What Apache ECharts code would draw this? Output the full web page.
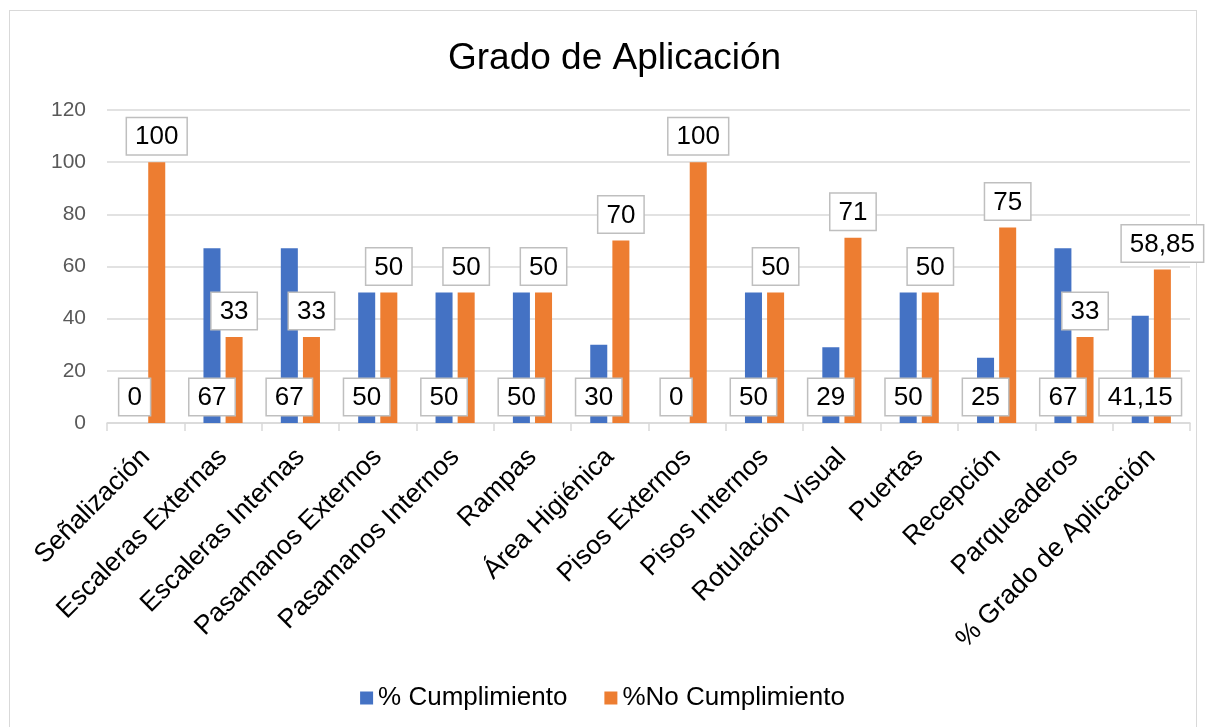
<!DOCTYPE html>
<html>
<head>
<meta charset="utf-8">
<script src="https://cdn.jsdelivr.net/npm/echarts@6/dist/echarts.min.js"></script>
<style>
  html, body { margin: 0; padding: 0; background: #fff; }
  #frame { position: absolute; left: 9px; top: 10px; width: 1188px; height: 730px; border: 1px solid #d9d9d9; box-sizing: border-box; }
  #grafico { position: absolute; left: 0; top: 0; width: 1205px; height: 727px; }
</style>
</head>
<body>
<div id="frame"></div>
<div id="grafico"></div>
<script>
// Categorías y valores (en %)
const categorias = ['Señalización', 'Escaleras Externas', 'Escaleras Internas', 'Pasamanos Externos',
  'Pasamanos Internos', 'Rampas', 'Área Higiénica', 'Pisos Externos', 'Pisos Internos',
  'Rotulación Visual', 'Puertas', 'Recepción', 'Parqueaderos', '% Grado de Aplicación'];
const cumplimiento = [0, 67, 67, 50, 50, 50, 30, 0, 50, 29, 50, 25, 67, 41.15];
const noCumplimiento = [100, 33, 33, 50, 50, 50, 70, 100, 50, 71, 50, 75, 33, 58.85];
const ejeY = [0, 20, 40, 60, 80, 100, 120];

const fuente = 'Liberation Sans, Arial, sans-serif';

// Etiqueta tipo "llamada" de Excel
const etiqueta = function(pos, dist) {
    return {
        show: true,
        position: pos,
        distance: dist,
        fontFamily: fuente,
        fontSize: 26,
        color: '#000',
        backgroundColor: '#fff',
        borderColor: '#bfbfbf',
        borderWidth: 1.5,
        padding: [6, 8, 4, 8],
        formatter: p => String(p.value).replace('.', ',')
    };
};

const chart = echarts.init(document.getElementById('grafico'), null, { renderer: 'canvas' });

// Las etiquetas van en un eje gemelo oculto para quedar encima de todas las barras
const option = {
    animation: false,
    textStyle: { fontFamily: fuente },
    title: {
        text: 'Grado de Aplicación',
        left: 443,
        top: 35,
        textStyle: { fontFamily: fuente, fontSize: 37, fontWeight: 'normal', color: '#000' }
    },
    legend: {
        bottom: 11,
        left: 'center',
        icon: 'rect',
        itemWidth: 13,
        itemHeight: 13,
        itemGap: 37,
        textStyle: { fontFamily: fuente, fontSize: 26, color: '#000' },
        data: ['% Cumplimiento', '%No Cumplimiento']
    },
    grid: {
        left: 107,
        right: 15,
        top: 110,
        height: 313,
        containLabel: false
    },
    xAxis: [
        {
            type: 'category',
            data: categorias,
            axisLine: { lineStyle: { color: '#d9d9d9', width: 1.5 } },
            axisTick: { show: true, length: 8, lineStyle: { color: '#d9d9d9', width: 1.5 } },
            axisLabel: {
                interval: 0,
                rotate: 45,
                margin: 30,
                fontFamily: fuente,
                fontSize: 26.5,
                color: '#000'
            }
        },
        {
            type: 'category',
            data: categorias,
            position: 'bottom',
            show: false
        }
    ],
    yAxis: {
        type: 'value',
        min: ejeY[0],
        max: ejeY[ejeY.length - 1],
        interval: 20,
        axisLine: { show: false },
        axisTick: { show: false },
        axisLabel: { fontFamily: fuente, fontSize: 21, color: '#595959', margin: 21 },
        splitLine: { lineStyle: { color: '#d9d9d9', width: 1.5 } }
    },
    series: [
        {
            name: '% Cumplimiento',
            type: 'bar',
            data: cumplimiento,
            barWidth: '22%',
            barGap: '30%',
            itemStyle: { color: '#4472C4' }
        },
        {
            name: '%No Cumplimiento',
            type: 'bar',
            data: noCumplimiento,
            barWidth: '22%',
            itemStyle: { color: '#ED7D31' }
        },
        {
            name: '% Cumplimiento',
            type: 'bar',
            xAxisIndex: 1,
            data: cumplimiento,
            barWidth: '22%',
            barGap: '30%',
            itemStyle: { color: 'rgba(0,0,0,0)' },
            label: etiqueta('insideBottom', 8),
            silent: true,
            z: 5
        },
        {
            name: '%No Cumplimiento',
            type: 'bar',
            xAxisIndex: 1,
            data: noCumplimiento,
            barWidth: '22%',
            itemStyle: { color: 'rgba(0,0,0,0)' },
            label: etiqueta('top', 8),
            silent: true,
            z: 6
        }
    ]
};

chart.setOption(option);

window.addEventListener('resize', () => {
    chart.resize();
});
</script>
</body>
</html>
